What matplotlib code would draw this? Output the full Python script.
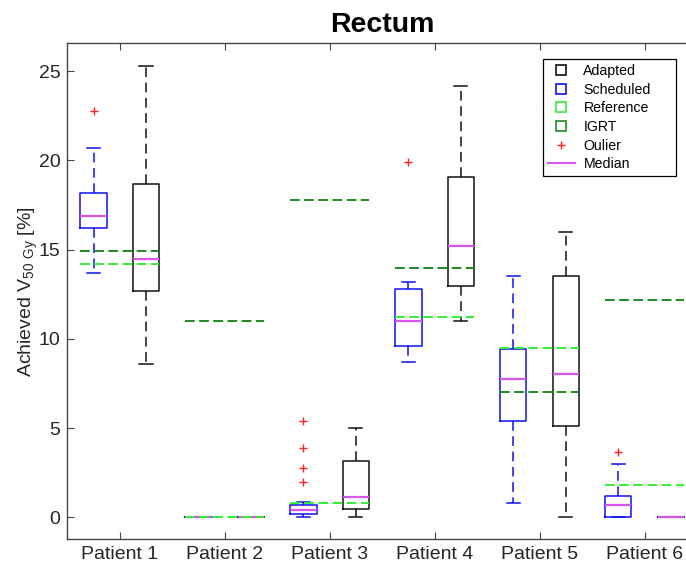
import matplotlib
matplotlib.use("Agg")
import numpy as np
import matplotlib.pyplot as plt
from matplotlib.lines import Line2D

plt.rcParams["font.family"] = ["Liberation Sans", "DejaVu Sans"]
plt.rcParams["lines.scale_dashes"] = False

# ---- data -------------------------------------------------------------
patients = ["Patient 1", "Patient 2", "Patient 3", "Patient 4", "Patient 5", "Patient 6"]

sched_q1 = [16.2, 0.0, 0.17, 9.6, 5.4, 0.0]
sched_med = [16.9, 0.0, 0.39, 11.0, 7.75, 0.69]
sched_q3 = [18.2, 0.0, 0.67, 12.8, 9.42, 1.2]
sched_lo = [13.7, 0.0, 0.0, 8.7, 0.8, 0.0]
sched_hi = [20.7, 0.0, 0.86, 13.2, 13.5, 3.0]
sched_out = [[22.8], [], [2.0, 2.79, 3.9, 5.39], [19.9], [], [3.67]]

adapt_q1 = [12.7, 0.0, 0.49, 12.96, 5.11, 0.0]
adapt_med = [14.5, 0.0, 1.14, 15.2, 8.03, 0.0]
adapt_q3 = [18.7, 0.0, 3.18, 19.1, 13.5, 0.0]
adapt_lo = [8.6, 0.0, 0.0, 11.0, 0.0, 0.0]
adapt_hi = [25.3, 0.0, 4.98, 24.2, 16.0, 0.0]
adapt_out = [[], [], [], [], [], []]

reference = [14.2, 0.0, 0.8, 11.2, 9.5, 1.8]
igrt = [14.9, 11.0, 17.8, 14.0, 7.0, 12.2]

# ---- style ------------------------------------------------------------
C_SCHED = "#1010f0"
C_ADAPT = "#111111"
C_REF = "#33ee33"
C_IGRT = "#1f8a1f"
C_MED = "#d855ec"
C_OUT = "#ff2020"
DASH = (0, (7, 4))


def make_stats(q1, med, q3, lo, hi, out):
    return [dict(q1=a, med=b, q3=c, whislo=d, whishi=e, fliers=f)
            for a, b, c, d, e, f in zip(q1, med, q3, lo, hi, out)]


fig = plt.figure(figsize=(6.86, 5.67), dpi=100)
ax = fig.add_axes([0.0981, 0.0489, 0.918, 0.8748])

x = np.arange(1, len(patients) + 1)


def draw_boxes(stats, pos, color):
    ax.bxp(stats, positions=pos, widths=0.25, capwidths=0.125,
           showfliers=True,
           boxprops=dict(color=color, lw=1.1),
           whiskerprops=dict(color=color, lw=1.1, linestyle=DASH),
           capprops=dict(color=color, lw=1.1),
           medianprops=dict(color=C_MED, lw=1.6),
           flierprops=dict(marker="+", markeredgecolor=C_OUT,
                           markersize=6, markeredgewidth=1.0, linestyle="none"))


draw_boxes(make_stats(sched_q1, sched_med, sched_q3, sched_lo, sched_hi, sched_out),
           x - 0.25, C_SCHED)
draw_boxes(make_stats(adapt_q1, adapt_med, adapt_q3, adapt_lo, adapt_hi, adapt_out),
           x + 0.25, C_ADAPT)

ax.hlines(igrt, x - 0.375, x + 0.375, colors=C_IGRT, linestyles=[(0, (7, 3.2))],
          lw=1.4, zorder=4)
ax.hlines(reference, x - 0.375, x + 0.375, colors=C_REF, linestyles=[(0, (7, 3.2))],
          lw=1.4, zorder=4)

ax.set_xlim(0.5, 6.5)
ax.set_ylim(-1.23, 26.57)
ax.set_xticks(x)
ax.set_xticklabels(patients)
ax.set_yticks([0, 5, 10, 15, 20, 25])

ax.tick_params(direction="in", length=5, width=0.8, top=True, right=True,
               color="#444444", labelcolor="#262626", labelsize=14, pad=5)
for sp in ax.spines.values():
    sp.set_color("#444444")
    sp.set_linewidth(1.0)

ax.set_title("Rectum", fontsize=20.5, fontweight="bold", pad=8)
ax.set_ylabel(r"Achieved V$_{\mathregular{50\ Gy}}$ [%]", fontsize=14,
              color="#262626", labelpad=-1)

handles = [
    Line2D([], [], marker="s", ms=7, mfc="none", mec=C_ADAPT, mew=1.2, ls="none"),
    Line2D([], [], marker="s", ms=7, mfc="none", mec=C_SCHED, mew=1.2, ls="none"),
    Line2D([], [], marker="s", ms=7, mfc="none", mec=C_REF, mew=1.2, ls="none"),
    Line2D([], [], marker="s", ms=7, mfc="none", mec=C_IGRT, mew=1.2, ls="none"),
    Line2D([], [], marker="+", ms=6, mec=C_OUT, mew=1.0, ls="none"),
    Line2D([], [], color=C_MED, lw=1.5),
]
labels = ["Adapted", "Scheduled", "Reference", "IGRT", "Oulier", "Median"]
leg = ax.legend(handles, labels, loc="upper left",
                bbox_to_anchor=(0.7555, 0.7304, 0.2112, 0.2379), mode="expand",
                fontsize=10.2, frameon=True, fancybox=False, edgecolor="black",
                framealpha=1, handlelength=1.9, labelspacing=0.33, borderpad=0.35,
                handletextpad=0.6, borderaxespad=0)
leg.get_frame().set_linewidth(0.9)

fig.savefig("out.png", dpi=100)
